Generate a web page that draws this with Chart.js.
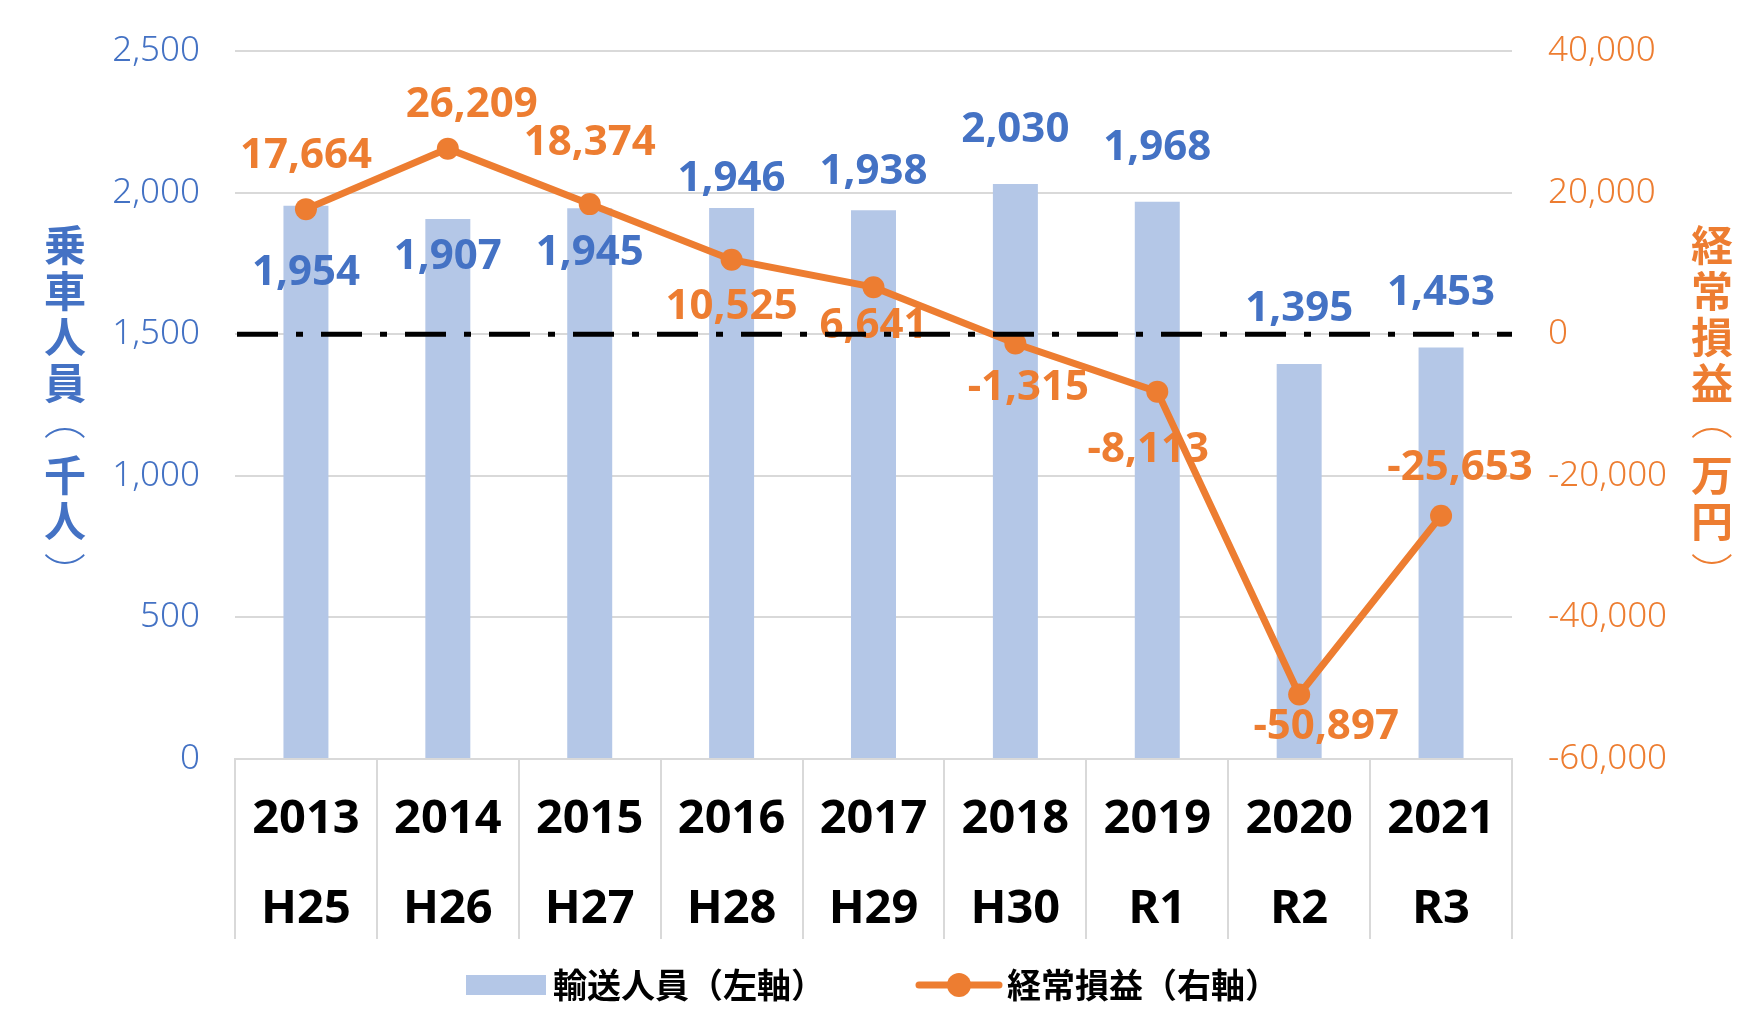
<!DOCTYPE html>
<html>
<head>
<meta charset="utf-8">
<script src="https://cdn.jsdelivr.net/npm/chart.js@4"></script>
<style>
  html, body { margin: 0; padding: 0; background: #fff; }
  #wrap { width: 1758px; height: 1025px; }
</style>
</head>
<body>
<div id="wrap"><canvas id="myChart" width="1758" height="1025"></canvas></div>
<script>
// data
const years = ["2013", "2014", "2015", "2016", "2017", "2018", "2019", "2020", "2021"];
const eras = ["H25", "H26", "H27", "H28", "H29", "H30", "R1", "R2", "R3"];
const passengers = [1954, 1907, 1945, 1946, 1938, 2030, 1968, 1395, 1453]; // 千人
const profit = [17664, 26209, 18374, 10525, 6641, -1315, -8113, -50897, -25653]; // 万円

// "(" / ")" are drawn turned, like vertical writing
const leftTitle = ["乗", "車", "人", "員", "（", "千", "人", "）"];
const rightTitle = ["経", "常", "損", "益", "（", "万", "円", "）"];
const barName = "輸送人員（左軸）";
const lineName = "経常損益（右軸）";

const BLUE = "#4472C4";
const BAR = "#B4C7E7";
const ORANGE = "#ED7D31";
const GRID = "#D9D9D9";

// label nudges (px) so the numbers sit where they do in the original
const barLabelDy = [64, 35, 42, -32, -41, -57, -57, -58, -58];
const lineLabelDx = [0, 24, 0, 0, 0, 13, -9, 27, 19];
const lineLabelDy = [-56, -47, -64, 44, 36, 41, 55, 29, -51];

function fmt(v) {
  return v.toLocaleString("en-US");
}

function drawVertical(ctx, chars, x, y0, step, color) {
  ctx.fillStyle = color;
  chars.forEach((ch, i) => {
    const y = y0 + i * step;
    if (ch === "（" || ch === "）") {
      ctx.save();
      ctx.translate(x, ch === "（" ? y - 10 : y + 6);
      ctx.rotate(Math.PI / 2);
      ctx.font = '300 42px "Noto Sans CJK JP"';
      ctx.fillText(ch, 0, 0);
      ctx.restore();
    } else {
      ctx.fillText(ch, x, y);
    }
  });
}

// keep the y scales from pushing the plot down (tick padding counts as top padding)
function noVPad(scale) {
  scale.paddingTop = 0;
  scale.paddingBottom = 0;
}

const extras = {
  id: "extras",
  afterDatasetsDraw(chart) {
    const ctx = chart.ctx;
    ctx.save();
    ctx.font = 'bold 42px "Noto Sans"';
    ctx.textAlign = "center";
    ctx.textBaseline = "alphabetic";
    const half = 15;
    chart.getDatasetMeta(1).data.forEach((bar, i) => {
      ctx.fillStyle = BLUE;
      ctx.fillText(fmt(passengers[i]), bar.x, bar.y + barLabelDy[i] + half);
    });
    chart.getDatasetMeta(0).data.forEach((pt, i) => {
      ctx.fillStyle = ORANGE;
      ctx.fillText(fmt(profit[i]), pt.x + lineLabelDx[i], pt.y + lineLabelDy[i] + half);
    });
    ctx.restore();
  },
  afterDraw(chart) {
    const ctx = chart.ctx;
    const area = chart.chartArea;
    ctx.save();
    // zero line of the right axis, dash-dot
    const y0 = chart.scales.y1.getPixelForValue(0);
    ctx.strokeStyle = "#000";
    ctx.lineWidth = 5;
    ctx.setLineDash([41, 18, 7, 18]);
    ctx.beginPath();
    ctx.moveTo(area.left + 2, y0);
    ctx.lineTo(area.right, y0);
    ctx.stroke();
    ctx.setLineDash([]);

    // vertical axis titles
    ctx.font = 'bold 42px "Noto Sans CJK JP"';
    ctx.textAlign = "center";
    ctx.textBaseline = "middle";
    drawVertical(ctx, leftTitle, 65, 245, 46, BLUE);
    ctx.font = 'bold 42px "Noto Sans CJK JP"';
    drawVertical(ctx, rightTitle, 1712, 245, 46, ORANGE);

    // legend
    const ly = 985;
    ctx.fillStyle = BAR;
    ctx.fillRect(466, ly - 10, 80, 20);
    ctx.strokeStyle = ORANGE;
    ctx.lineWidth = 7;
    ctx.lineCap = "round";
    ctx.beginPath();
    ctx.moveTo(919, ly);
    ctx.lineTo(999, ly);
    ctx.stroke();
    ctx.fillStyle = ORANGE;
    ctx.beginPath();
    ctx.arc(959, ly, 12, 0, Math.PI * 2);
    ctx.fill();
    ctx.fillStyle = "#000";
    ctx.font = 'bold 34px "Noto Sans CJK JP"';
    ctx.textAlign = "left";
    ctx.fillText(barName, 553, ly);
    ctx.fillText(lineName, 1007, ly);
    ctx.restore();
  }
};

const ctx = document.getElementById("myChart").getContext("2d");
const myChart = new Chart(ctx, {
  data: {
    labels: years.map((y, i) => [y, eras[i]]),
    datasets: [
      {
        type: "line",
        label: lineName,
        data: profit,
        yAxisID: "y1",
        borderColor: ORANGE,
        backgroundColor: ORANGE,
        borderWidth: 7,
        pointRadius: 11,
        pointHoverRadius: 11,
        pointBackgroundColor: ORANGE,
        pointBorderWidth: 0,
        tension: 0,
        order: 0
      },
      {
        type: "bar",
        label: barName,
        data: passengers,
        yAxisID: "y",
        backgroundColor: BAR,
        barPercentage: 0.317,
        categoryPercentage: 1,
        order: 1
      }
    ]
  },
  options: {
    responsive: false,
    animation: false,
    layout: { padding: { top: 51, left: 0, right: 0, bottom: 0 } },
    plugins: {
      legend: { display: false },
      tooltip: { enabled: false }
    },
    scales: {
      x: {
        offset: true,
        grid: {
          offset: true,
          drawOnChartArea: false,
          drawTicks: true,
          tickLength: 180,
          color: GRID,
          lineWidth: 2
        },
        border: { display: true, color: GRID, width: 2 },
        ticks: {
          color: "#000",
          font: { family: "Noto Sans", size: 47, weight: "bold", lineHeight: 1.93 },
          padding: -165,
          maxRotation: 0,
          autoSkip: false
        },
        afterFit(scale) {
          scale.height = 266;
        }
      },
      y: {
        position: "left",
        min: 0,
        max: 2500,
        ticks: {
          stepSize: 500,
          color: BLUE,
          padding: 35,
          font: { family: "Noto Sans", size: 35, weight: "300" },
          callback: (v) => fmt(v)
        },
        grid: { color: GRID, lineWidth: 2, drawTicks: false },
        border: { display: false },
        afterFit(scale) {
          scale.width = 235;
          noVPad(scale);
        }
      },
      y1: {
        position: "right",
        min: -60000,
        max: 40000,
        ticks: {
          stepSize: 20000,
          color: ORANGE,
          padding: 36,
          font: { family: "Noto Sans", size: 35, weight: "300" },
          callback: (v) => fmt(v)
        },
        grid: { drawOnChartArea: false, drawTicks: false },
        border: { display: false },
        afterFit(scale) {
          scale.width = 246;
          noVPad(scale);
        }
      }
    }
  },
  plugins: [extras]
});
</script>
</body>
</html>
